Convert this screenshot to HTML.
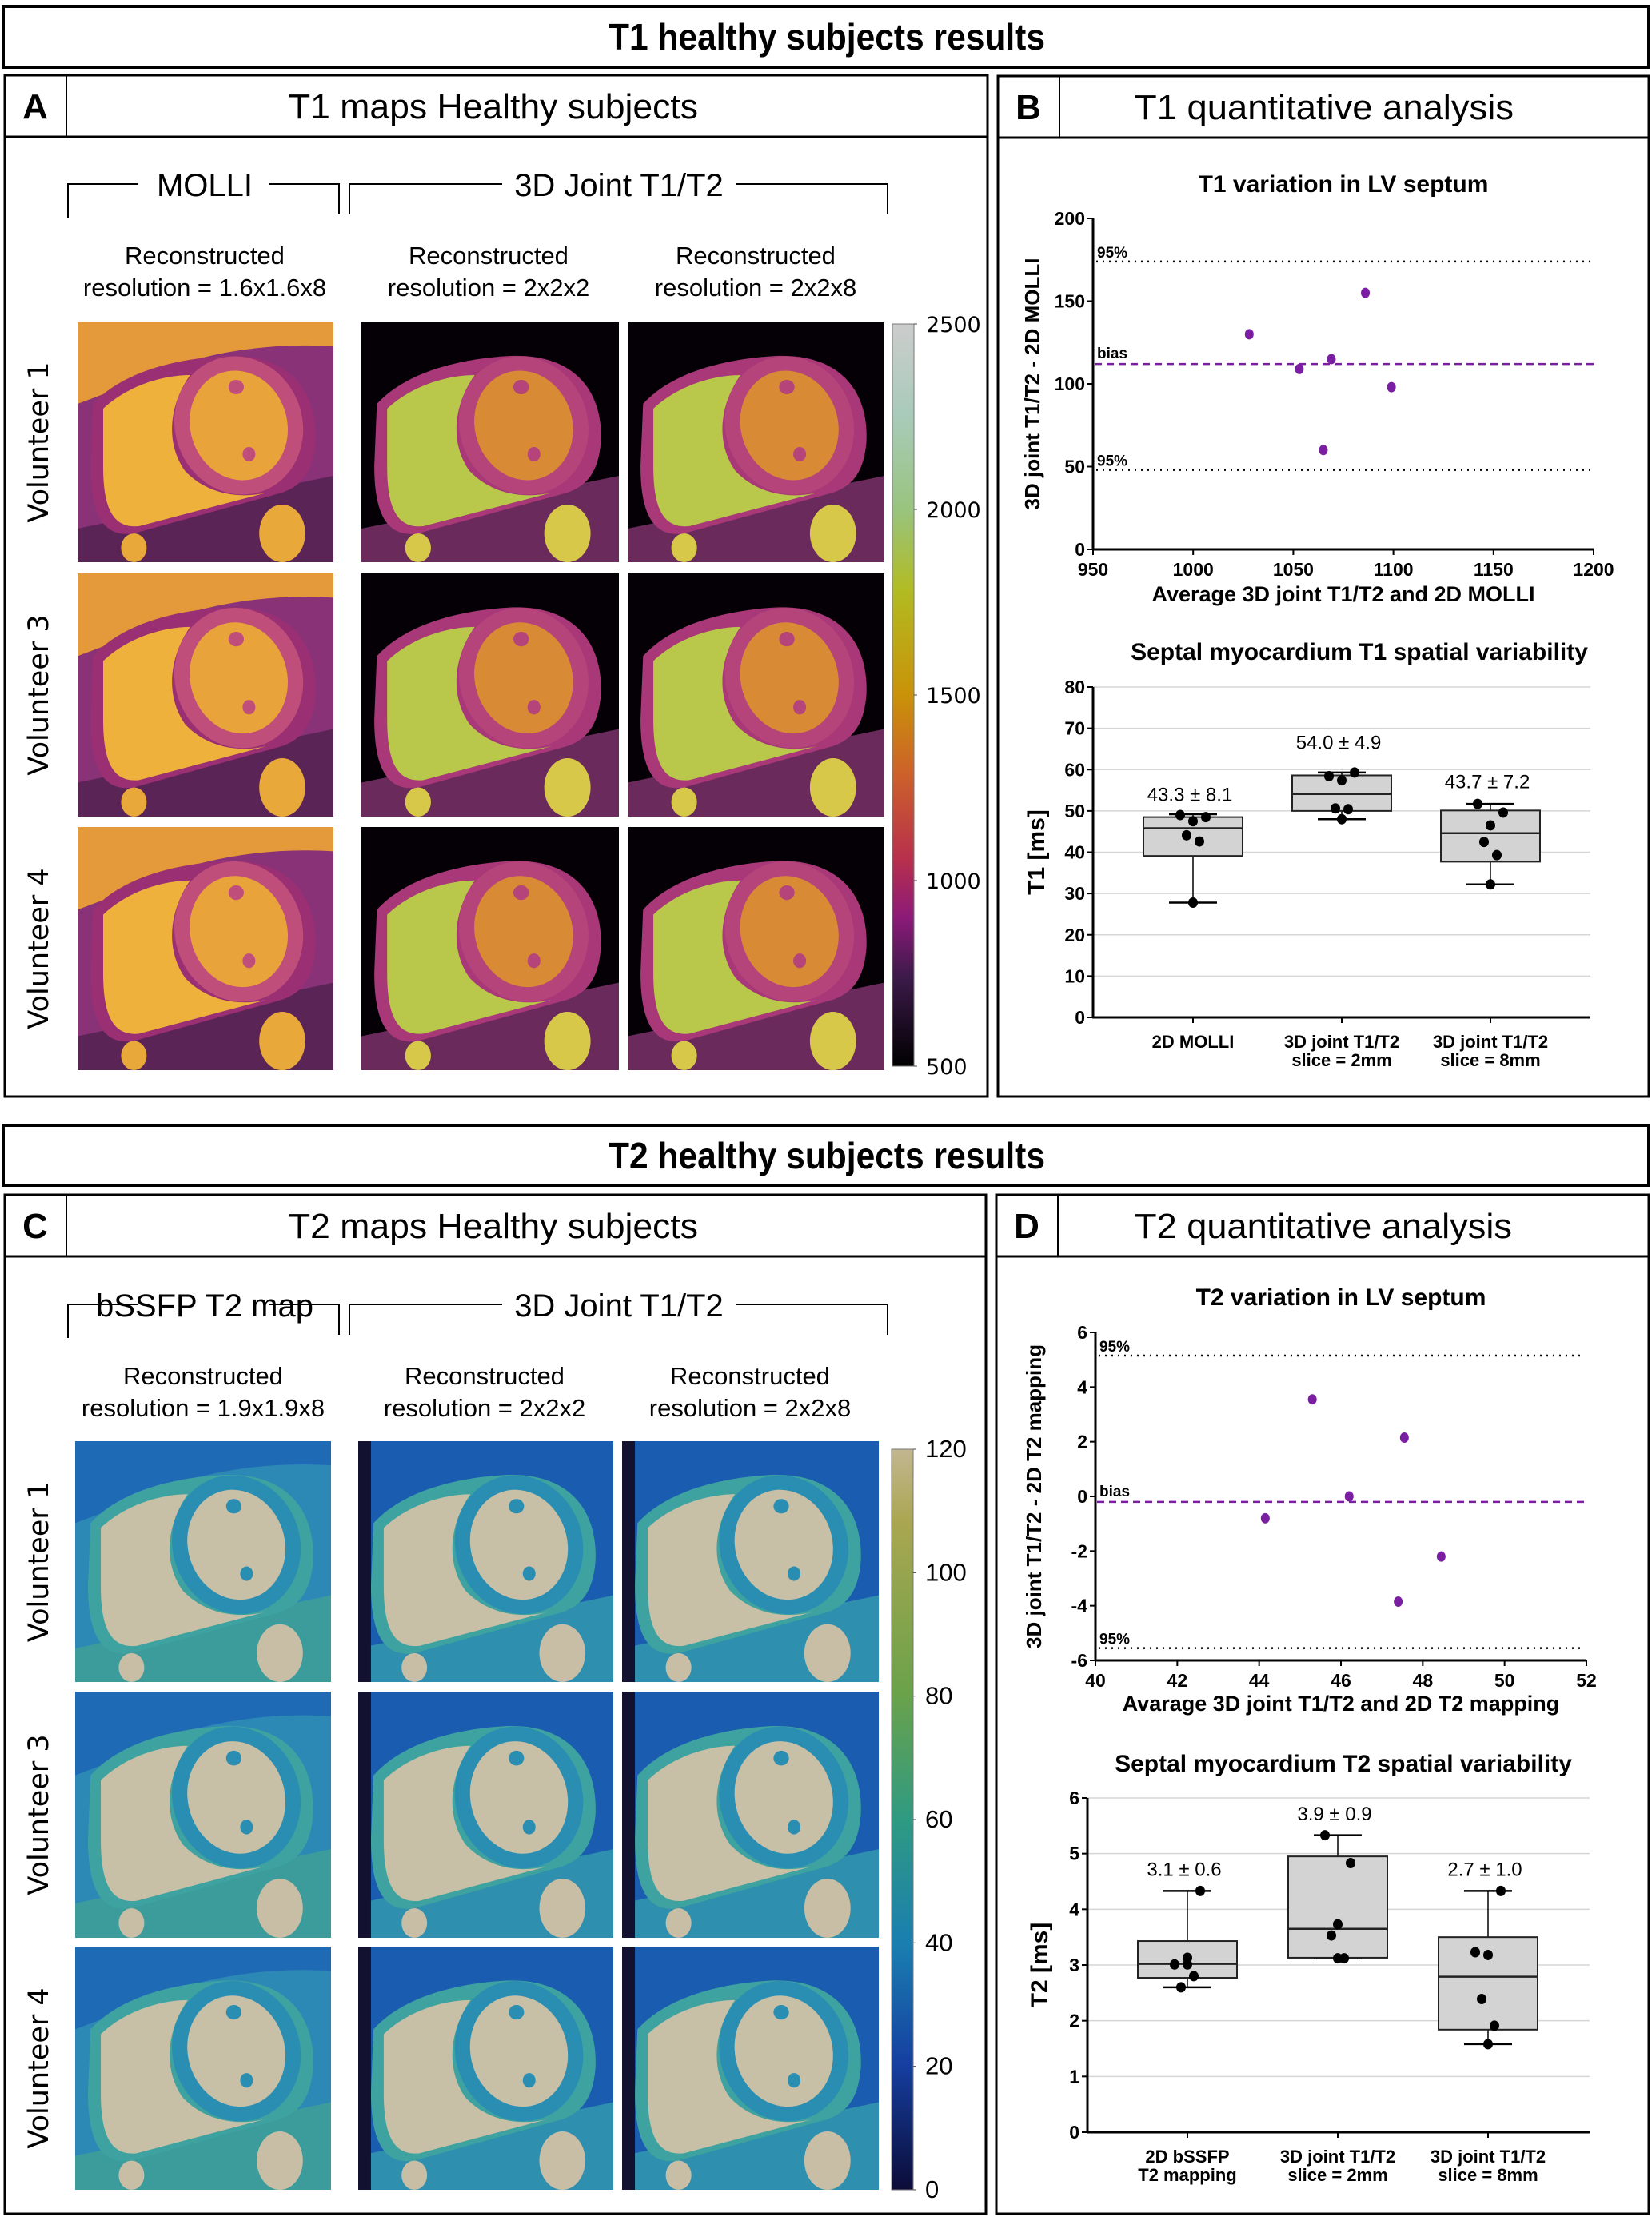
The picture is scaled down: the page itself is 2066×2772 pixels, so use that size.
<!DOCTYPE html>
<html><head><meta charset="utf-8">
<style>
html,body{margin:0;padding:0;background:#fff;}
svg{display:block;}
.ttl{font-family:"Liberation Sans Narrow","Liberation Sans",sans-serif;}
.cal{font-family:"Liberation Sans Narrow","Liberation Sans",sans-serif;}
.ver{font-family:"DejaVu Sans","Liberation Sans",sans-serif;}
.nb{font-family:"Liberation Sans Narrow","Liberation Sans",sans-serif;font-weight:bold;}
</style></head>
<body>
<svg id="root" width="2066" height="2772" viewBox="0 0 2066 2772" xmlns="http://www.w3.org/2000/svg">
<defs>
<linearGradient id="cbT1" x1="0" y1="0" x2="0" y2="1">
<stop offset="0" stop-color="#cccccc"/><stop offset="0.12" stop-color="#a9cbbb"/><stop offset="0.25" stop-color="#98c47e"/>
<stop offset="0.36" stop-color="#b2bb22"/><stop offset="0.5" stop-color="#c99208"/><stop offset="0.6" stop-color="#cd6428"/>
<stop offset="0.72" stop-color="#b8304c"/><stop offset="0.8" stop-color="#8c1a78"/><stop offset="0.88" stop-color="#3c1a4a"/><stop offset="1" stop-color="#000000"/>
</linearGradient>
<linearGradient id="cbT2" x1="0" y1="0" x2="0" y2="1">
<stop offset="0" stop-color="#c2b690"/><stop offset="0.1" stop-color="#a9a650"/><stop offset="0.33" stop-color="#6aa24a"/>
<stop offset="0.5" stop-color="#2f9a82"/><stop offset="0.67" stop-color="#1a7eb0"/><stop offset="0.83" stop-color="#153fa0"/><stop offset="1" stop-color="#0c0c38"/>
</linearGradient>
</defs>

<g>
<rect x="4" y="8" width="2058" height="76" fill="none" stroke="#000" stroke-width="4"/>
<text x="1034" y="62" text-anchor="middle" class="ttl" font-weight="bold" font-size="46" textLength="546" lengthAdjust="spacingAndGlyphs">T1 healthy subjects results</text>
</g>
<g>
<rect x="4" y="1407" width="2058" height="75" fill="none" stroke="#000" stroke-width="4"/>
<text x="1034" y="1461" text-anchor="middle" class="ttl" font-weight="bold" font-size="46" textLength="546" lengthAdjust="spacingAndGlyphs">T2 healthy subjects results</text>
</g>

<g id="panels"></g>
<g id="images"></g>
<g id="charts"></g>
</svg>

<script>
// ---------------- DATA ----------------
const t1BaMean = [1028, 1053, 1065, 1069, 1086, 1099];
const t1BaDiff = [130, 109, 60, 115, 155, 98];
const t1Bias = 112;
const t1Upper = 174;
const t1Lower = 48;
const t1BaXTicks = [950, 1000, 1050, 1100, 1150, 1200];
const t1BaYTicks = [0, 50, 100, 150, 200];

const t1BoxCats = [["2D MOLLI"], ["3D joint T1/T2", "slice = 2mm"], ["3D joint T1/T2", "slice = 8mm"]];
const t1BoxMin = [27.8, 48.0, 32.2];
const t1BoxQ1 = [39.1, 50.0, 37.7];
const t1BoxMed = [45.8, 54.1, 44.6];
const t1BoxQ3 = [48.5, 58.6, 50.1];
const t1BoxMax = [49.2, 59.3, 51.7];
const t1BoxPts = [[49.0, 48.5, 47.5, 44.1, 42.6, 27.8], [58.4, 59.3, 57.4, 50.6, 50.4, 48.0], [51.7, 49.6, 46.5, 42.5, 39.3, 32.2]];
const t1BoxLabels = ["43.3 \u00b1 8.1", "54.0 \u00b1 4.9", "43.7 \u00b1 7.2"];
const t1BoxLabelVal = [52.4, 65.0, 55.5];
const t1BoxYTicks = [0, 10, 20, 30, 40, 50, 60, 70, 80];

const t2BaMean = [44.15, 45.3, 46.2, 47.4, 47.55, 48.45];
const t2BaDiff = [-0.8, 3.55, 0.0, -3.85, 2.15, -2.2];
const t2Bias = -0.2;
const t2Upper = 5.15;
const t2Lower = -5.55;
const t2BaXTicks = [40, 42, 44, 46, 48, 50, 52];
const t2BaYTicks = [-6, -4, -2, 0, 2, 4, 6];

const t2BoxCats = [["2D bSSFP", "T2 mapping"], ["3D joint T1/T2", "slice = 2mm"], ["3D joint T1/T2", "slice = 8mm"]];
const t2BoxMin = [2.6, 3.12, 1.58];
const t2BoxQ1 = [2.77, 3.13, 1.84];
const t2BoxMed = [3.02, 3.65, 2.79];
const t2BoxQ3 = [3.43, 4.95, 3.5];
const t2BoxMax = [4.33, 5.33, 4.33];
const t2BoxPts = [[3.01, 4.33, 3.01, 2.6, 2.8, 3.13], [5.33, 4.83, 3.73, 3.53, 3.12, 3.12], [3.23, 4.33, 3.18, 2.39, 1.91, 1.58]];
const t2BoxLabels = ["3.1 \u00b1 0.6", "3.9 \u00b1 0.9", "2.7 \u00b1 1.0"];
const t2BoxLabelVal = [4.6, 5.6, 4.6];
const t2BoxYTicks = [0, 1, 2, 3, 4, 5, 6];

const t1CbTicks = [2500, 2000, 1500, 1000, 500];
const t2CbTicks = [120, 100, 80, 60, 40, 20, 0];

// ---------------- HELPERS ----------------
const NS = "http://www.w3.org/2000/svg";
function mk(parent, tag, attrs, text) {
  const e = document.createElementNS(NS, tag);
  for (const k in attrs) e.setAttribute(k, attrs[k]);
  if (text !== undefined) e.textContent = text;
  parent.appendChild(e);
  return e;
}
function lin(d0, d1, r0, r1) { return v => r0 + (v - d0) / (d1 - d0) * (r1 - r0); }

// ---------------- PANELS ----------------
const panels = document.getElementById("panels");
function panel(x, y, w, h, letter, title, tx, tw, name) {
  const g = mk(panels, "g", {});
  
  
  mk(g, "rect", {x: x, y: y, width: w, height: h, fill: "none", stroke: "#000", "stroke-width": 3});
  mk(g, "line", {x1: x, y1: y + 77, x2: x + w, y2: y + 77, stroke: "#000", "stroke-width": 3});
  mk(g, "line", {x1: x + 77, y1: y, x2: x + 77, y2: y + 77, stroke: "#000", "stroke-width": 2});
  const l = mk(g, "text", {x: x + 38, y: y + 54, "text-anchor": "middle", "class": "ttl", "font-weight": "bold", "font-size": 44}, letter);
  
  
  const t = mk(g, "text", {x: tx, y: y + 54, "class": "cal", "font-size": 44, textLength: tw, lengthAdjust: "spacingAndGlyphs"}, title);
  
  
}
panel(6, 94, 1229, 1277, "A", "T1 maps Healthy subjects", 361, 512, "panel-a");
panel(1248, 95, 814, 1276, "B", "T1 quantitative analysis", 1419, 474, "panel-b");
panel(6, 1494, 1227, 1274, "C", "T2 maps Healthy subjects", 361, 512, "panel-c");
panel(1246, 1494, 816, 1274, "D", "T2 quantitative analysis", 1419, 472, "panel-d");

// ---------------- IMAGE GRIDS ----------------
const imgs = document.getElementById("images");
function header(yb, leftLabel, resLabels, colsX) {
  const g = mk(imgs, "g", {});
  
  
  const st = {stroke: "#000", "stroke-width": 2, fill: "none"};
  mk(g, "polyline", Object.assign({points: `85,${yb+42} 85,${yb} 173,${yb}`}, st));
  mk(g, "polyline", Object.assign({points: `337,${yb} 424,${yb} 424,${yb+38}`}, st));
  mk(g, "polyline", Object.assign({points: `437,${yb+38} 437,${yb} 628,${yb}`}, st));
  mk(g, "polyline", Object.assign({points: `920,${yb} 1110,${yb} 1110,${yb+38}`}, st));
  mk(g, "text", {x: 256, y: yb + 15, "text-anchor": "middle", "class": "cal", "font-size": 40}, leftLabel);
  mk(g, "text", {x: 774, y: yb + 15, "text-anchor": "middle", "class": "cal", "font-size": 40}, "3D Joint T1/T2");
  for (let i = 0; i < 3; i++) {
    mk(g, "text", {x: colsX[i], y: yb + 100, "text-anchor": "middle", "class": "cal", "font-size": 31}, "Reconstructed");
    mk(g, "text", {x: colsX[i], y: yb + 140, "text-anchor": "middle", "class": "cal", "font-size": 31}, resLabels[i]);
  }
}
header(230, "MOLLI", ["resolution = 1.6x1.6x8", "resolution  = 2x2x2", "resolution = 2x2x8"], [256, 611, 945]);
header(1631, "bSSFP T2 map", ["resolution = 1.9x1.9x8", "resolution  = 2x2x2", "resolution = 2x2x8"], [254, 606, 938]);

function heart(x, y, w, h, p, name) {
  const s = mk(imgs, "svg", {x: x, y: y, width: w, height: h, viewBox: "0 0 100 100", preserveAspectRatio: "none"});
  
  
  mk(s, "rect", {x: 0, y: 0, width: 100, height: 100, fill: p.bg});
  if (p.top) mk(s, "path", {d: "M0,0 L100,0 L100,10 C70,8 40,14 10,30 L0,34 Z", fill: p.top});
  mk(s, "path", {d: "M0,86 L100,64 L100,100 L0,100 Z", fill: p.tissue});
  mk(s, "ellipse", {cx: 22, cy: 94, rx: 5, ry: 6, fill: p.blob});
  mk(s, "ellipse", {cx: 80, cy: 88, rx: 9, ry: 12, fill: p.blob});
  mk(s, "path", {d: "M6,34 C18,20 40,15 58,14 C82,13 94,28 93,50 C92,62 88,68 80,71 L22,88 C10,90 5,80 5,60 Z", fill: p.edge});
  mk(s, "path", {d: "M10,36 C20,26 34,22 44,22 C36,34 34,50 42,62 C50,71 62,74 74,71 L24,85 C14,86 10,78 10,60 Z", fill: p.rv});
  mk(s, "ellipse", {cx: 63, cy: 43, rx: 25, ry: 29, fill: p.ring, transform: "rotate(-12 63 43)"});
  mk(s, "ellipse", {cx: 63, cy: 43, rx: 19, ry: 23, fill: p.lv, transform: "rotate(-12 63 43)"});
  mk(s, "ellipse", {cx: 62, cy: 27, rx: 3, ry: 3, fill: p.ring});
  mk(s, "ellipse", {cx: 67, cy: 55, rx: 2.5, ry: 3, fill: p.ring});
  if (p.strip) mk(s, "rect", {x: 0, y: 0, width: 5, height: 100, fill: p.strip});
}
const t1Molli = {bg: "#8a3278", top: "#e49a3a", tissue: "#5a2456", blob: "#e8a83a", edge: "#9a2f74", rv: "#eeb23c", ring: "#c04e7a", lv: "#e8a43a"};
const t1Joint = {bg: "#050005", top: null, tissue: "#6a2a5c", blob: "#d8c84a", edge: "#a83878", rv: "#b9c84a", ring: "#b4447a", lv: "#d88a34"};
const t2Ssfp = {bg: "#2c88b4", top: "#1f6ab4", tissue: "#3c9c9c", blob: "#c8bea6", edge: "#3ea3a0", rv: "#c7bfa6", ring: "#2a8eb2", lv: "#c7bfa6"};
const t2Joint = {bg: "#1a5cb0", top: null, tissue: "#2f8fae", blob: "#c8bea6", edge: "#3ea3a0", rv: "#c7bfa6", ring: "#2a8eb2", lv: "#c7bfa6", strip: "#121230"};
const t1Cols = [[97, 320], [452, 322], [785, 321]];
const t1Rows = [[403, 300], [717, 304], [1034, 304]];
const t2Cols = [[94, 320], [448, 319], [778, 321]];
const t2Rows = [[1802, 301], [2115, 308], [2434, 304]];
const vols = ["Volunteer 1", "Volunteer 3", "Volunteer 4"];
for (let r = 0; r < 3; r++) {
  for (let c = 0; c < 3; c++) {
    heart(t1Cols[c][0], t1Rows[r][0], t1Cols[c][1], t1Rows[r][1], c === 0 ? t1Molli : t1Joint, "t1-map-image");
    heart(t2Cols[c][0], t2Rows[r][0], t2Cols[c][1], t2Rows[r][1], c === 0 ? t2Ssfp : t2Joint, "t2-map-image");
  }
  const cy1 = t1Rows[r][0] + t1Rows[r][1] / 2, cy2 = t2Rows[r][0] + t2Rows[r][1] / 2;
  const a = mk(imgs, "text", {x: 0, y: 0, "text-anchor": "middle", "class": "ver", "font-size": 35, transform: `translate(60 ${cy1}) rotate(-90)`}, vols[r]);
  
  
  const b = mk(imgs, "text", {x: 0, y: 0, "text-anchor": "middle", "class": "ver", "font-size": 35, transform: `translate(60 ${cy2}) rotate(-90)`}, vols[r]);
  
  
}
function colorbar(x, y0, y1, grad, ticks, lo, hi, cls, fs, name) {
  const g = mk(imgs, "g", {});
  
  
  mk(g, "rect", {x: x, y: y0, width: 27, height: y1 - y0, fill: `url(#${grad})`, stroke: "#777", "stroke-width": 1});
  const sy = lin(lo, hi, y1, y0);
  ticks.forEach(t => {
    mk(g, "line", {x1: x + 27, y1: sy(t), x2: x + 31, y2: sy(t), stroke: "#444", "stroke-width": 1});
    mk(g, "text", {x: x + 42, y: sy(t) + 10, "class": cls, "font-size": fs}, String(t));
  });
}
colorbar(1116, 405, 1333, "cbT1", t1CbTicks, 500, 2500, "ver", 27, "t1-colorbar");
colorbar(1115, 1812, 2738, "cbT2", t2CbTicks, 0, 120, "cal", 31, "t2-colorbar");

// ---------------- CHARTS ----------------
const charts = document.getElementById("charts");
function axisText(g, x, y, txt, anchor, fs) {
  return mk(g, "text", {x: x, y: y, "text-anchor": anchor, "class": "nb", "font-size": fs}, txt);
}
function blandAltman(cfg) {
  const g = mk(charts, "g", {});
  
  
  const sx = lin(cfg.xd[0], cfg.xd[1], cfg.x0, cfg.x1);
  const sy = lin(cfg.yd[0], cfg.yd[1], cfg.y0, cfg.y1);
  const t = mk(g, "text", {x: cfg.tx, y: cfg.ty, "text-anchor": "middle", "class": "nb", "font-size": 30}, cfg.title);
  
  
  mk(g, "line", {x1: cfg.x0, y1: cfg.y0 + 1, x2: cfg.x0, y2: cfg.y1, stroke: "#000", "stroke-width": 3});
  mk(g, "line", {x1: cfg.x0 - 1, y1: cfg.y0, x2: cfg.x1, y2: cfg.y0, stroke: "#000", "stroke-width": 3});
  cfg.yt.forEach(v => {
    mk(g, "line", {x1: cfg.x0 - 7, y1: sy(v), x2: cfg.x0, y2: sy(v), stroke: "#000", "stroke-width": 2});
    axisText(g, cfg.x0 - 10, sy(v) + 8, String(v), "end", 23);
  });
  cfg.xt.forEach(v => {
    mk(g, "line", {x1: sx(v), y1: cfg.y0, x2: sx(v), y2: cfg.y0 + 7, stroke: "#000", "stroke-width": 2});
    axisText(g, sx(v), cfg.y0 + 33, String(v), "middle", 23);
  });
  const xl = axisText(g, cfg.tx, cfg.xly, cfg.xlabel, "middle", 27);
  
  
  const yl = mk(g, "text", {x: 0, y: 0, "text-anchor": "middle", "class": "nb", "font-size": 26, transform: `translate(${cfg.ylx} ${(cfg.y0 + cfg.y1) / 2}) rotate(-90)`}, cfg.ylabel);
  
  
  [cfg.up, cfg.lo].forEach(v => {
    const l = mk(g, "line", {x1: cfg.x0 + 4, y1: sy(v), x2: cfg.lx1, y2: sy(v), stroke: "#000", "stroke-width": 2.5, "stroke-dasharray": "2 6"});
    
    
    axisText(g, cfg.x0 + 5, sy(v) - 5, "95%", "start", 19);
  });
  const b = mk(g, "line", {x1: cfg.x0 + 2, y1: sy(cfg.bias), x2: cfg.x1, y2: sy(cfg.bias), stroke: "#7b1fa2", "stroke-width": 2.5, "stroke-dasharray": "9 6"});
  
  
  axisText(g, cfg.x0 + 5, sy(cfg.bias) - 7, "bias", "start", 19);
  cfg.mx.forEach((m, i) => {
    const c = mk(g, "ellipse", {cx: sx(m), cy: sy(cfg.dy[i]), rx: 5.5, ry: 6.5, fill: "#7b1fa2"});
    
    
  });
}
blandAltman({name: "t1-bland-altman-chart", title: "T1 variation in LV septum", tx: 1680, ty: 240,
  x0: 1367, x1: 1993, y0: 687, y1: 273, xd: [950, 1200], yd: [0, 200], lx1: 1990,
  xt: t1BaXTicks, yt: t1BaYTicks, mx: t1BaMean, dy: t1BaDiff, bias: t1Bias, up: t1Upper, lo: t1Lower,
  xlabel: "Average 3D joint T1/T2 and 2D MOLLI", xly: 752, ylabel: "3D joint T1/T2 - 2D MOLLI", ylx: 1300});
blandAltman({name: "t2-bland-altman-chart", title: "T2 variation in LV septum", tx: 1677, ty: 1632,
  x0: 1370, x1: 1984, y0: 2076, y1: 1666, xd: [40, 52], yd: [-6, 6], lx1: 1980,
  xt: t2BaXTicks, yt: t2BaYTicks, mx: t2BaMean, dy: t2BaDiff, bias: t2Bias, up: t2Upper, lo: t2Lower,
  xlabel: "Avarage 3D joint T1/T2 and 2D T2 mapping", xly: 2139, ylabel: "3D joint T1/T2 - 2D T2 mapping", ylx: 1302});

function boxChart(cfg) {
  const g = mk(charts, "g", {});
  
  
  const sy = lin(cfg.yd[0], cfg.yd[1], cfg.y0, cfg.y1);
  const sx = i => cfg.x0 + cfg.first + cfg.step * i;
  const t = mk(g, "text", {x: cfg.tx, y: cfg.ty, "text-anchor": "middle", "class": "nb", "font-size": 30}, cfg.title);
  
  
  cfg.yt.forEach(v => {
    if (v > cfg.yd[0]) mk(g, "line", {x1: cfg.x0, y1: sy(v), x2: cfg.x1, y2: sy(v), stroke: "#d6d6d6", "stroke-width": 1.5});
    mk(g, "line", {x1: cfg.x0 - 7, y1: sy(v), x2: cfg.x0, y2: sy(v), stroke: "#000", "stroke-width": 2});
    axisText(g, cfg.x0 - 10, sy(v) + 8, String(v), "end", 23);
  });
  mk(g, "line", {x1: cfg.x0, y1: cfg.y0 + 1, x2: cfg.x0, y2: cfg.y1, stroke: "#000", "stroke-width": 3});
  mk(g, "line", {x1: cfg.x0 - 1, y1: cfg.y0, x2: cfg.x1, y2: cfg.y0, stroke: "#000", "stroke-width": 3});
  const yl = mk(g, "text", {x: 0, y: 0, "text-anchor": "middle", "class": "nb", "font-size": 30, transform: `translate(${cfg.ylx} ${(cfg.y0 + cfg.y1) / 2}) rotate(-90)`}, cfg.ylabel);
  
  
  const jit = [-16, 16, 0, -8, 8, 0];
  cfg.cats.forEach((cat, i) => {
    const cx = sx(i);
    mk(g, "line", {x1: cx, y1: cfg.y0, x2: cx, y2: cfg.y0 + 7, stroke: "#000", "stroke-width": 2});
    cat.forEach((ln, k) => axisText(g, cx, cfg.y0 + 38 + k * 23, ln, "middle", 22));
    mk(g, "line", {x1: cx, y1: sy(cfg.min[i]), x2: cx, y2: sy(cfg.max[i]), stroke: "#000", "stroke-width": 1.5});
    mk(g, "line", {x1: cx - 30, y1: sy(cfg.min[i]), x2: cx + 30, y2: sy(cfg.min[i]), stroke: "#000", "stroke-width": 2.5});
    mk(g, "line", {x1: cx - 30, y1: sy(cfg.max[i]), x2: cx + 30, y2: sy(cfg.max[i]), stroke: "#000", "stroke-width": 2.5});
    const b = mk(g, "rect", {x: cx - 62, y: sy(cfg.q3[i]), width: 124, height: sy(cfg.q1[i]) - sy(cfg.q3[i]), fill: "#d3d3d3", stroke: "#222", "stroke-width": 2});
    
    
    mk(g, "line", {x1: cx - 62, y1: sy(cfg.med[i]), x2: cx + 62, y2: sy(cfg.med[i]), stroke: "#222", "stroke-width": 2.5});
    cfg.pts[i].forEach((v, k) => {
      const c = mk(g, "ellipse", {cx: cx + jit[k], cy: sy(v), rx: 6, ry: 6.5, fill: "#000"});
      
      
    });
    const a = mk(g, "text", {x: cx - 4, y: sy(cfg.lv[i]), "text-anchor": "middle", "class": "cal", "font-size": 24}, cfg.labels[i]);
    
    
  });
}
boxChart({name: "t1-spatial-variability-chart", title: "Septal myocardium T1 spatial variability", tx: 1700, ty: 825,
  x0: 1367, x1: 1989, y0: 1272, y1: 859, yd: [0, 80], first: 125, step: 186, cats: t1BoxCats,
  min: t1BoxMin, q1: t1BoxQ1, med: t1BoxMed, q3: t1BoxQ3, max: t1BoxMax, pts: t1BoxPts,
  labels: t1BoxLabels, lv: t1BoxLabelVal, yt: t1BoxYTicks, ylabel: "T1 [ms]", ylx: 1306});
boxChart({name: "t2-spatial-variability-chart", title: "Septal myocardium T2 spatial variability", tx: 1680, ty: 2215,
  x0: 1360, x1: 1988, y0: 2666, y1: 2248, yd: [0, 6], first: 125, step: 188, cats: t2BoxCats,
  min: t2BoxMin, q1: t2BoxQ1, med: t2BoxMed, q3: t2BoxQ3, max: t2BoxMax, pts: t2BoxPts,
  labels: t2BoxLabels, lv: t2BoxLabelVal, yt: t2BoxYTicks, ylabel: "T2 [ms]", ylx: 1310});
</script>
</body></html>
